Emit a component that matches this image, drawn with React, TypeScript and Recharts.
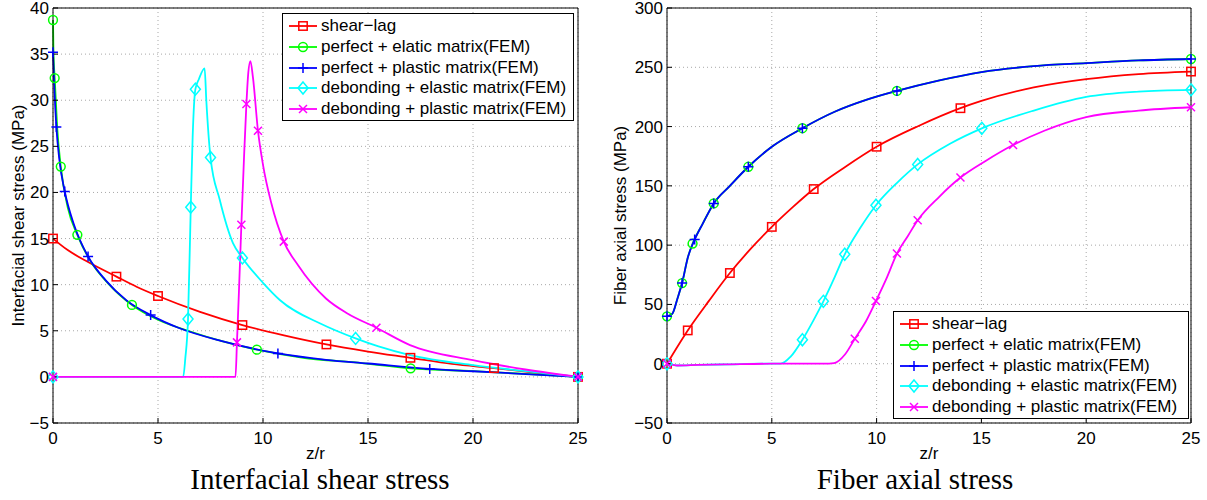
import React from "react";
import { ComposedChart, Line, XAxis, YAxis, CartesianGrid, Legend } from "recharts";

type Pt = { x: number; y: number; m?: number };
const P = (x: number, y: number, m?: number): Pt => ({ x, y, m });

const xTicks = [0, 5, 10, 15, 20, 25];
const shearTicks = [-5, 0, 5, 10, 15, 20, 25, 30, 35, 40];
const axialTicks = [-50, 0, 50, 100, 150, 200, 250, 300];

const seriesNames = [
  "shear\u2212lag",
  "perfect + elatic matrix(FEM)",
  "perfect + plastic matrix(FEM)",
  "debonding + elastic matrix(FEM)",
  "debonding + plastic matrix(FEM)",
];
const seriesColors = ["#ff0000", "#00ff00", "#0000ff", "#00ffff", "#ff00ff"];
const seriesMarkers = ["square", "circle", "plus", "diamond", "cross"];

// interfacial shear stress (MPa) against z/r, m = marker drawn
const tauShearLag = [
  P(0, 15, 1), P(0.7, 13.75), P(1.67, 12.45), P(3.02, 10.87, 1), P(4, 9.75), P(5, 8.77, 1),
  P(7, 7.05), P(9.02, 5.62, 1), P(11, 4.5), P(13.02, 3.52, 1), P(15, 2.75), P(17.02, 2.07, 1),
  P(19, 1.4), P(21, 0.95, 1), P(23, 0.45), P(25, 0, 1),
];
const tauPerfectElastic = [
  P(0, 38.7, 1), P(0.02, 35.5), P(0.08, 32.4, 1), P(0.2, 27), P(0.37, 22.8, 1), P(0.7, 18.4),
  P(1.16, 15.4, 1), P(1.8, 12.5), P(2.6, 10.2), P(3.76, 7.8, 1), P(5, 6.2), P(6.5, 4.95),
  P(8, 3.9), P(9.71, 2.95, 1), P(12, 2.05), P(14.5, 1.55), P(17.03, 0.93, 1), P(20, 0.62),
  P(22.5, 0.32), P(25, 0, 1),
];
const tauPerfectPlastic = [
  P(0, 35.2, 1), P(0.07, 31), P(0.16, 27.1, 1), P(0.3, 23.6), P(0.56, 20.1, 1), P(1, 16.5),
  P(1.67, 13.05, 1), P(2.5, 10.5), P(3.5, 8.3), P(4.65, 6.7, 1), P(6, 5.3), P(8, 3.9),
  P(10.71, 2.54, 1), P(13, 1.85), P(15, 1.45), P(17.94, 0.86, 1), P(20, 0.61), P(22.5, 0.31),
  P(25, 0, 1),
];
const tauDebondElastic = [
  P(0, 0, 1), P(6.2, 0), P(6.3, 2), P(6.43, 6.27, 1), P(6.56, 18.4, 1), P(6.65, 26),
  P(6.78, 31.2, 1), P(6.95, 32.3), P(7.22, 33.45), P(7.3, 30), P(7.5, 23.8, 1), P(7.94, 19.2),
  P(8.57, 14.5), P(9.02, 12.9, 1), P(10, 10.2), P(10.8, 8.34), P(12.78, 5.73), P(14.41, 4.17, 1),
  P(15.5, 3.3), P(17, 2.36), P(20, 1.27), P(22.5, 0.62), P(25, 0, 1),
];
const tauDebondPlastic = [
  P(0, 0, 1), P(8.69, 0), P(8.76, 3.74, 1), P(8.85, 9), P(8.97, 16.5, 1), P(9.1, 24),
  P(9.21, 29.6, 1), P(9.3, 33), P(9.4, 34.25), P(9.52, 32.5), P(9.76, 26.7, 1), P(10, 23),
  P(10.4, 18.8), P(10.99, 14.67, 1), P(11.67, 12.1), P(13, 8.5), P(14, 6.9), P(15.4, 5.33, 1),
  P(17, 3.45), P(20, 1.82), P(22.5, 0.8), P(25, 0, 1),
];

// fiber axial stress (MPa) against z/r
const sigShearLag = [
  P(0, 0, 1), P(0.99, 28.1, 1), P(2, 53), P(3, 76.5, 1), P(4, 97), P(5, 115.4, 1), P(6, 132),
  P(7, 147.3, 1), P(8.5, 166), P(10, 183, 1), P(12, 200.5), P(14, 215.5, 1), P(15, 221.6),
  P(17.5, 233), P(20, 240), P(22.5, 244.3), P(25, 246.4, 1),
];
const sigPerfectElastic = [
  P(0, 40, 1), P(0.25, 42), P(0.5, 55), P(0.72, 68, 1), P(1, 90), P(1.22, 101.3, 1), P(1.7, 118),
  P(2.23, 135.2, 1), P(3, 150), P(3.88, 166.1, 1), P(5, 183), P(6.46, 198.6, 1), P(8, 212.5),
  P(9.5, 222.5), P(10.97, 230.1, 1), P(13, 239), P(15, 246), P(17.5, 251), P(20, 253.5),
  P(22.5, 255.8), P(25, 257, 1),
];
const sigPerfectPlastic = [
  P(0, 40, 1), P(0.25, 42), P(0.5, 55), P(0.72, 68, 1), P(1, 90), P(1.32, 104.7, 1), P(1.7, 118),
  P(2.23, 135.2, 1), P(3, 150), P(3.88, 166.1, 1), P(5, 183), P(6.46, 198.6, 1), P(8, 212.5),
  P(9.5, 222.5), P(10.97, 230.1, 1), P(13, 239), P(15, 246), P(17.5, 251), P(20, 253.5),
  P(22.5, 255.8), P(25, 257, 1),
];
const sigDebondElastic = [
  P(0, 0, 1), P(0.5, -1.5), P(1.5, -1), P(3, -0.5), P(4.5, 0), P(5.42, 0), P(5.9, 6),
  P(6.46, 20.2, 1), P(7, 37), P(7.46, 52.6, 1), P(8, 73), P(8.48, 92.3, 1), P(9.2, 114),
  P(9.97, 133.7, 1), P(11, 153), P(11.96, 168.1, 1), P(13.5, 185.5), P(15.02, 198.5, 1),
  P(17.5, 213.5), P(20, 225), P(22.5, 229.5), P(25, 231, 1),
];
const sigDebondPlastic = [
  P(0, 0, 1), P(0.5, -1.5), P(1.5, -1), P(3, -0.5), P(5, 0), P(7.5, 0), P(7.97, 0.5), P(8.5, 8),
  P(8.96, 21, 1), P(9.5, 36), P(9.97, 52.9, 1), P(10.5, 73), P(10.97, 92.9, 1), P(11.5, 108),
  P(11.96, 121, 1), P(13, 141), P(14, 157, 1), P(15.2, 171), P(16.51, 184.4, 1), P(18, 196.5),
  P(20, 208), P(22.5, 213.5), P(25, 216.3, 1),
];

const FONT = "'Liberation Sans', Arial, Helvetica, sans-serif";
const tickStyle = { fill: "#000", fontSize: 17, fontFamily: FONT };
const minus = (v: number) => String(v).replace("-", "\u2212");

function Marker({ shape, x, y, color }: { shape: string; x: number; y: number; color: string }) {
  const sw = 1.5;
  if (shape === "square")
    return <rect x={x - 4.2} y={y - 4.2} width={8.4} height={8.4} fill="none" stroke={color} strokeWidth={sw} />;
  if (shape === "circle") return <circle cx={x} cy={y} r={4.4} fill="none" stroke={color} strokeWidth={sw} />;
  if (shape === "plus")
    return <path d={`M${x - 5},${y}H${x + 5}M${x},${y - 5}V${y + 5}`} stroke={color} strokeWidth={sw} fill="none" />;
  if (shape === "diamond")
    return <path d={`M${x},${y - 6}L${x + 5},${y}L${x},${y + 6}L${x - 5},${y}Z`} stroke={color} strokeWidth={sw} fill="none" />;
  return (
    <path d={`M${x - 4},${y - 4}L${x + 4},${y + 4}M${x - 4},${y + 4}L${x + 4},${y - 4}`} stroke={color} strokeWidth={sw} fill="none" />
  );
}

const makeDot = (shape: string, color: string) => (props: any) => {
  const { cx, cy, payload, index } = props;
  if (!payload || !payload.m) return <g key={`d-${index}`} />;
  return (
    <g key={`d-${index}`}>
      <Marker shape={shape} x={cx} y={cy} color={color} />
    </g>
  );
};

function LegendBox({ width }: { width: number }) {
  return (
    <div
      style={{
        width,
        boxSizing: "border-box",
        border: "1.3px solid #000",
        background: "#fff",
        padding: "2px 0 1px 6px",
        fontFamily: FONT,
        fontSize: 17,
        color: "#000",
      }}
    >
      {seriesNames.map((name, i) => (
        <div key={name} style={{ display: "flex", alignItems: "center", height: 20.7, whiteSpace: "nowrap" }}>
          <svg width={28} height={20} style={{ marginRight: 4, flex: "none" }}>
            <line x1={0} y1={10} x2={28} y2={10} stroke={seriesColors[i]} strokeWidth={1.8} />
            <Marker shape={seriesMarkers[i]} x={14} y={10} color={seriesColors[i]} />
          </svg>
          <span>{name}</span>
        </div>
      ))}
    </div>
  );
}

type PanelProps = {
  width: number;
  yWidth: number;
  marginRight: number;
  yDomain: [number, number];
  yTicks: number[];
  yLabel: string;
  yLabelX: number;
  data: Pt[][];
  legendLeft: number;
  legendTop: number;
  legendWidth: number;
};

function Panel(p: PanelProps) {
  return (
    <ComposedChart width={p.width} height={470} margin={{ top: 7, right: p.marginRight, bottom: 0, left: 0 }}>
      <CartesianGrid stroke="#a8a8a8" strokeDasharray="1 3" />
      <XAxis
        type="number"
        dataKey="x"
        domain={[0, 25]}
        ticks={xTicks}
        interval={0}
        tickSize={-5}
        tickMargin={14}
        tick={tickStyle}
        stroke="#000"
        height={47}
        label={{
          content: (lp: any) => {
            const vb = lp.viewBox;
            return (
              <text x={vb.x + vb.width / 2} y={vb.y + 30} textAnchor="middle" dominantBaseline="central" fontFamily={FONT} fontSize={17} fill="#000">
                z/r
              </text>
            );
          },
        }}
      />
      <XAxis xAxisId="top" orientation="top" type="number" domain={[0, 25]} ticks={xTicks} interval={0} tick={false} tickSize={-5} height={1} stroke="#000" />
      <YAxis
        type="number"
        domain={p.yDomain}
        ticks={p.yTicks}
        interval={0}
        tickSize={-5}
        tickMargin={9}
        tick={tickStyle}
        tickFormatter={minus}
        stroke="#000"
        width={p.yWidth}
        label={{
          content: (lp: any) => {
            const vb = lp.viewBox;
            const x = vb.x + p.yLabelX;
            const y = vb.y + vb.height / 2;
            return (
              <text x={x} y={y} transform={`rotate(-90 ${x} ${y})`} textAnchor="middle" dominantBaseline="central" fontFamily={FONT} fontSize={17} fill="#000">
                {p.yLabel}
              </text>
            );
          },
        }}
      />
      <YAxis yAxisId="right" orientation="right" type="number" domain={p.yDomain} ticks={p.yTicks} interval={0} tick={false} tickSize={-5} width={1} stroke="#000" />
      {p.data.map((d, i) => (
        <Line
          key={seriesNames[i]}
          data={d}
          dataKey="y"
          name={seriesNames[i]}
          type="monotone"
          stroke={seriesColors[i]}
          strokeWidth={1.8}
          dot={makeDot(seriesMarkers[i], seriesColors[i])}
          activeDot={false}
          isAnimationActive={false}
        />
      ))}
      <Legend
        layout="vertical"
        align="center"
        verticalAlign="middle"
        content={() => <LegendBox width={p.legendWidth} />}
        wrapperStyle={{ left: p.legendLeft, top: p.legendTop, width: p.legendWidth }}
      />
    </ComposedChart>
  );
}

const titleStyle: React.CSSProperties = {
  position: "absolute",
  top: 463,
  width: 400,
  textAlign: "center",
  fontFamily: "'Liberation Serif', 'Times New Roman', serif",
  fontSize: 29,
  lineHeight: "32px",
  color: "#000",
};

export default function App() {
  return (
    <div style={{ position: "absolute", left: 0, top: 0, width: 1207, height: 500, background: "#fff", overflow: "hidden" }}>
      <div style={{ position: "absolute", left: 0, top: 0 }}>
        <Panel
          width={600}
          yWidth={53}
          marginRight={21}
          yDomain={[-5, 40]}
          yTicks={shearTicks}
          yLabel="Interfacial shear stress (MPa)"
          yLabelX={18}
          data={[tauShearLag, tauPerfectElastic, tauPerfectPlastic, tauDebondElastic, tauDebondPlastic]}
          legendLeft={282}
          legendTop={13}
          legendWidth={292}
        />
      </div>
      <div style={{ position: "absolute", left: 600, top: 0 }}>
        <Panel
          width={607}
          yWidth={67}
          marginRight={15}
          yDomain={[-50, 300]}
          yTicks={axialTicks}
          yLabel="Fiber axial stress (MPa)"
          yLabelX={20}
          data={[sigShearLag, sigPerfectElastic, sigPerfectPlastic, sigDebondElastic, sigDebondPlastic]}
          legendLeft={293}
          legendTop={311}
          legendWidth={296}
        />
      </div>
      <div style={{ ...titleStyle, left: 120 }}>Interfacial shear stress</div>
      <div style={{ ...titleStyle, left: 715 }}>Fiber axial stress</div>
    </div>
  );
}
